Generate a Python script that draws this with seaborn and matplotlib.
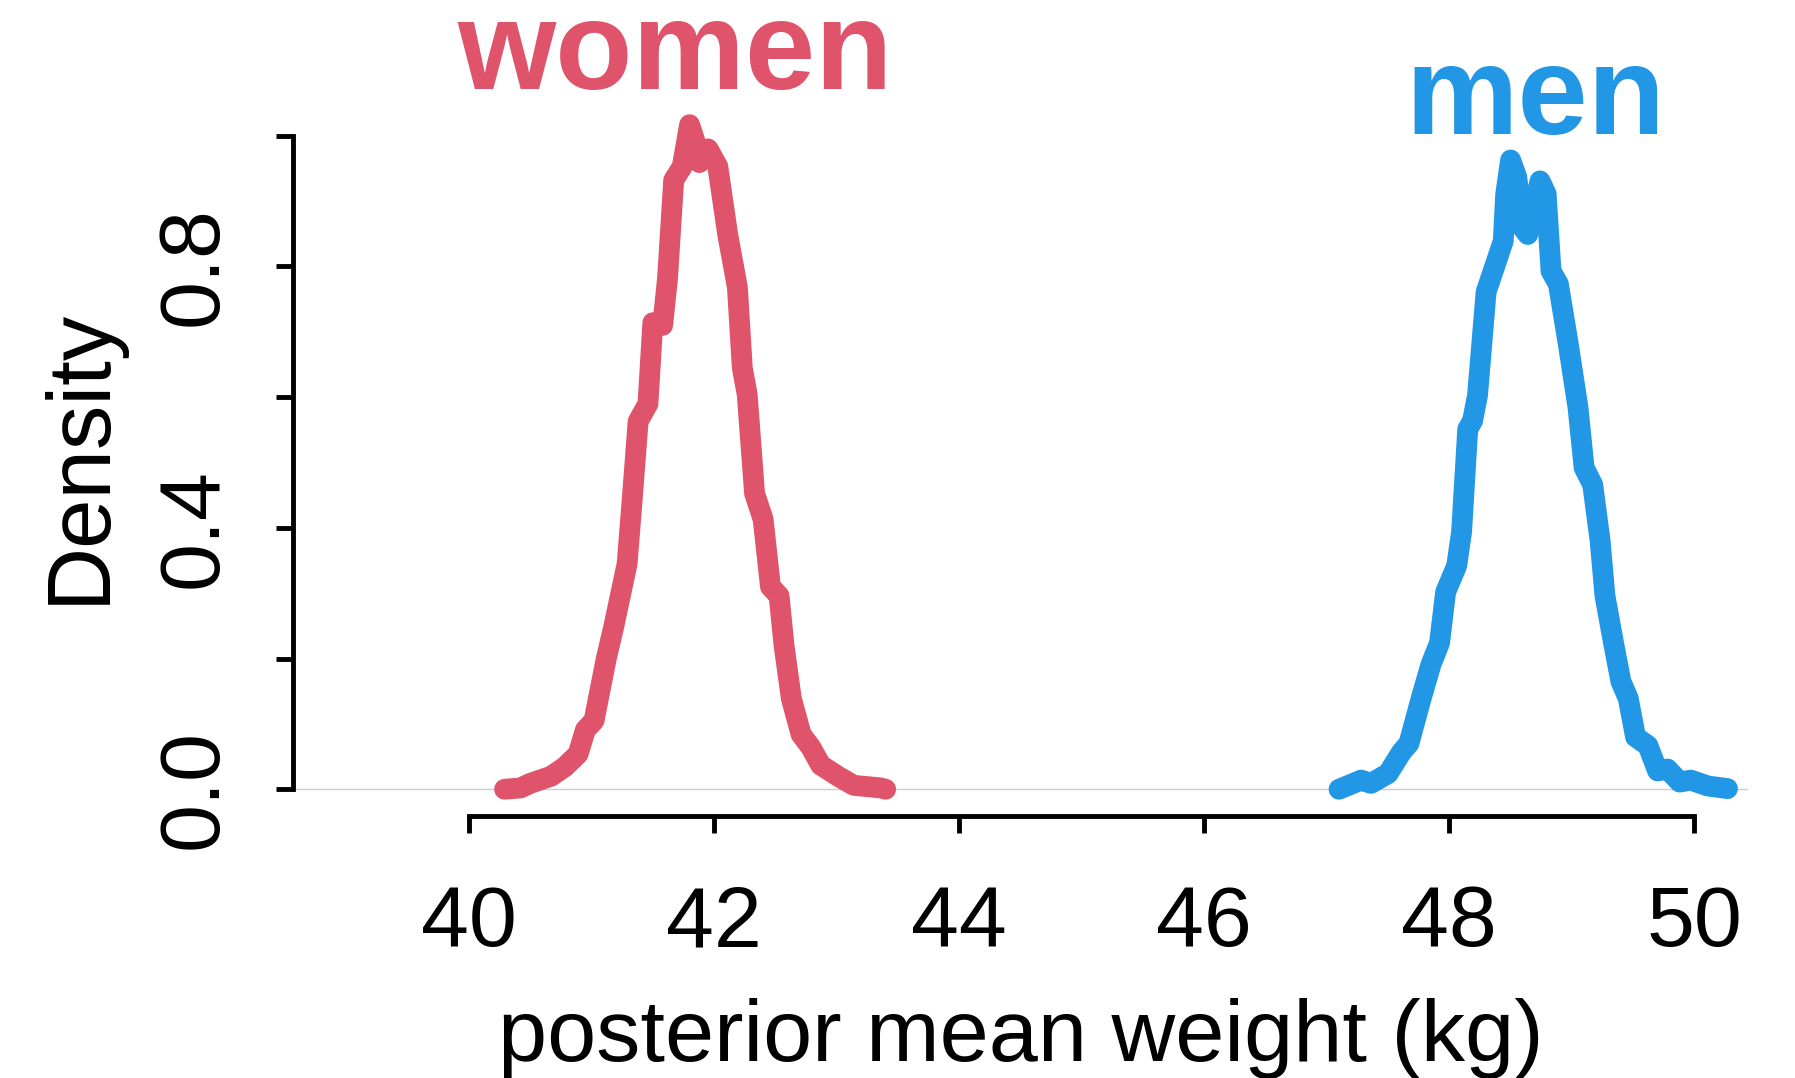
import matplotlib
matplotlib.use("Agg")
import matplotlib.pyplot as plt
import seaborn as sns

# posterior mean weight density
women_x = [40.29, 40.42, 40.50, 40.67, 40.78, 40.89, 40.95, 41.02, 41.12, 41.18,
           41.29, 41.33, 41.38, 41.46, 41.50, 41.58, 41.62, 41.67, 41.74, 41.80,
           41.84, 41.88, 41.95, 42.03, 42.11, 42.19, 42.23, 42.27, 42.33, 42.40,
           42.46, 42.53, 42.57, 42.63, 42.71, 42.79, 42.87, 43.01, 43.14, 43.36, 43.40]
women_y = [0.000, 0.002, 0.009, 0.020, 0.034, 0.054, 0.091, 0.105, 0.200, 0.248,
           0.345, 0.440, 0.563, 0.590, 0.714, 0.710, 0.782, 0.932, 0.953, 1.017,
           0.994, 0.959, 0.980, 0.953, 0.850, 0.768, 0.645, 0.604, 0.453, 0.413,
           0.310, 0.296, 0.221, 0.139, 0.084, 0.064, 0.037, 0.020, 0.006, 0.002, 0.000]

men_x = [47.10, 47.28, 47.36, 47.50, 47.61, 47.67, 47.77, 47.85, 47.92, 47.97,
         48.06, 48.10, 48.15, 48.19, 48.23, 48.30, 48.37, 48.44, 48.46, 48.50,
         48.55, 48.60, 48.64, 48.69, 48.74, 48.79, 48.83, 48.89, 48.97, 49.05,
         49.10, 49.17, 49.23, 49.27, 49.34, 49.40, 49.46, 49.52, 49.62, 49.70,
         49.78, 49.88, 49.97, 50.11, 50.27]
men_y = [0.000, 0.014, 0.009, 0.024, 0.057, 0.070, 0.139, 0.191, 0.224, 0.302,
         0.342, 0.394, 0.551, 0.564, 0.603, 0.761, 0.800, 0.839, 0.911, 0.963,
         0.937, 0.859, 0.849, 0.891, 0.931, 0.911, 0.793, 0.773, 0.682, 0.584,
         0.492, 0.466, 0.381, 0.296, 0.224, 0.165, 0.139, 0.080, 0.067, 0.028,
         0.031, 0.011, 0.014, 0.005, 0.001]

x_ticks = [40, 42, 44, 46, 48, 50]
y_ticks = [0.0, 0.2, 0.4, 0.6, 0.8, 1.0]
y_tick_labels = ["0.0", "", "0.4", "", "0.8", ""]

women_col = "#DF536B"
men_col = "#2297E6"

sns.set_theme(style="ticks")
plt.rcParams["font.family"] = ["Liberation Sans", "DejaVu Sans"]

fig = plt.figure(figsize=(17.95, 10.78), dpi=100)
ax = fig.add_axes([0.163, 0.243, 0.811, 0.668])

ax.axhline(0, color="#CCCCCC", lw=1, zorder=1)
for xs, ys, col in [(women_x, women_y, women_col), (men_x, men_y, men_col)]:
    sns.lineplot(x=xs, y=ys, color=col, ax=ax, zorder=3, lw=15,
                 solid_capstyle="round", solid_joinstyle="round")

ax.text(41.685, 1.072, "women", color=women_col, fontsize=91, fontweight="bold",
        ha="center", va="baseline", clip_on=False)
ax.text(48.70, 1.003, "men", color=men_col, fontsize=91, fontweight="bold",
        ha="center", va="baseline", clip_on=False)

ax.set_xlim(38.56, 50.44)
ax.set_ylim(-0.041, 1.061)

for s in ["top", "right"]:
    ax.spines[s].set_visible(False)
ax.spines["left"].set_bounds(0, 1)
ax.spines["bottom"].set_bounds(40, 50)
for s in ["left", "bottom"]:
    ax.spines[s].set_linewidth(3.5)
    ax.spines[s].set_color("black")

ax.set_xticks(x_ticks)
ax.set_xticklabels([str(t) for t in x_ticks])
ax.set_yticks(y_ticks)
ax.set_yticklabels(y_tick_labels, rotation=90, va="center")
ax.tick_params(axis="both", length=12, width=3.5, color="black",
               labelsize=62, labelcolor="black")
ax.tick_params(axis="x", pad=37)
ax.tick_params(axis="y", pad=30)

ax.set_xlabel("posterior mean weight (kg)", fontsize=63.5, color="black")
ax.set_ylabel("Density", fontsize=64, color="black")
ax.xaxis.set_label_coords(0.5, -0.252)
ax.yaxis.set_label_coords(-0.117, 0.5)
ax.grid(False)

fig.savefig("out.png", dpi=100)
